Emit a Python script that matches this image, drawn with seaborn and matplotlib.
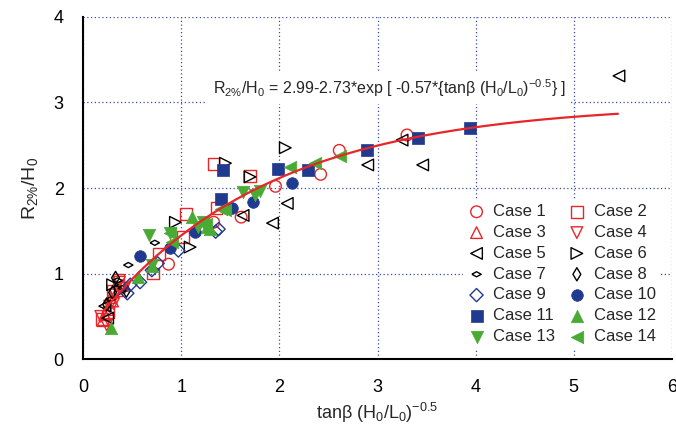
import numpy as np
import pandas as pd
import matplotlib
matplotlib.use("Agg")
import matplotlib.pyplot as plt
import seaborn as sns

# data: tan(beta)*(H0/L0)^-0.5  vs  R2%/H0
case1_x = [0.87, 1.33, 1.61, 1.96, 2.42, 2.61, 3.30]
case1_y = [1.11, 1.60, 1.66, 2.02, 2.16, 2.44, 2.62]
case2_x = [0.19, 0.26, 0.30, 0.36, 0.71, 0.77, 1.02, 1.05, 1.36, 1.33, 1.70]
case2_y = [0.47, 0.55, 0.80, 0.93, 1.00, 1.23, 1.43, 1.70, 1.77, 2.28, 2.14]
case3_x = [0.20, 0.22, 0.25, 0.28, 0.30, 0.35, 0.40]
case3_y = [0.45, 0.52, 0.58, 0.72, 0.68, 0.80, 0.86]
case4_x = [0.18, 0.24, 0.27, 0.31, 0.33, 0.37, 0.42]
case4_y = [0.50, 0.40, 0.62, 0.65, 0.75, 0.90, 0.83]
case5_x = [0.22, 0.25, 1.63, 1.93, 2.08, 2.90, 3.25, 3.46, 5.46]
case5_y = [0.62, 0.48, 1.68, 1.59, 1.82, 2.27, 2.56, 2.27, 3.31]
case6_x = [0.30, 0.38, 0.94, 1.09, 1.45, 1.70, 2.06]
case6_y = [0.87, 0.80, 1.60, 1.31, 2.29, 2.13, 2.47]
case7_x = [0.28, 0.35, 0.40, 0.46, 0.73]
case7_y = [0.70, 0.92, 0.83, 1.10, 1.36]
case8_x = [0.24, 0.30, 0.33, 0.44]
case8_y = [0.64, 0.78, 0.95, 0.80]
case9_x = [0.45, 0.48, 0.58, 0.70, 0.76, 0.97, 1.35, 1.38]
case9_y = [0.77, 0.87, 0.90, 1.04, 1.12, 1.27, 1.49, 1.52]
case10_x = [0.58, 0.89, 1.14, 1.52, 1.73, 2.13]
case10_y = [1.20, 1.30, 1.49, 1.77, 1.84, 2.06]
case11_x = [1.40, 1.43, 1.99, 2.29, 2.89, 3.41, 3.94]
case11_y = [1.87, 2.21, 2.22, 2.21, 2.44, 2.58, 2.70]
case12_x = [0.28, 0.56, 0.70, 1.11, 1.26, 1.29]
case12_y = [0.37, 0.96, 1.09, 1.66, 1.54, 1.52]
case13_x = [0.67, 0.70, 0.89, 1.17, 1.22, 1.63, 1.75, 1.80]
case13_y = [1.45, 1.10, 1.47, 1.55, 1.60, 1.95, 1.92, 1.97]
case14_x = [0.89, 0.91, 1.25, 1.40, 1.45, 2.11, 2.36, 2.62]
case14_y = [1.48, 1.37, 1.58, 1.75, 1.74, 2.25, 2.29, 2.37]

# fit quoted on the chart: y = a - b*exp(-c*x)
fit_a, fit_b, fit_c = 2.99, 2.73, 0.57
fit_xmin, fit_xmax = 0.2, 5.45

RED = "#e8262a"
BLUE = "#203a8f"
GREEN = "#4aab34"
flat_diamond = [(-1, 0), (0, 0.55), (1, 0), (0, -0.55), (-1, 0)]

# (x, y, marker, colour, filled, size)
cases = {
    1: (case1_x, case1_y, "o", RED, False, 70),
    2: (case2_x, case2_y, "s", RED, False, 70),
    3: (case3_x, case3_y, "^", RED, False, 70),
    4: (case4_x, case4_y, "v", RED, False, 70),
    5: (case5_x, case5_y, "<", "black", False, 70),
    6: (case6_x, case6_y, ">", "black", False, 70),
    7: (case7_x, case7_y, flat_diamond, "black", False, 45),
    8: (case8_x, case8_y, "d", "black", False, 45),
    9: (case9_x, case9_y, "D", BLUE, False, 45),
    10: (case10_x, case10_y, "o", BLUE, True, 70),
    11: (case11_x, case11_y, "s", BLUE, True, 80),
    12: (case12_x, case12_y, "^", GREEN, True, 80),
    13: (case13_x, case13_y, "v", GREEN, True, 80),
    14: (case14_x, case14_y, "<", GREEN, True, 80),
}

rows = []
for k, (xs, ys, *_rest) in cases.items():
    for xv, yv in zip(xs, ys):
        rows.append({"case": k, "x": xv, "y": yv})
df = pd.DataFrame(rows)

sns.set_style("white")
plt.rcParams["font.family"] = ["Liberation Sans", "DejaVu Sans"]
plt.rcParams["mathtext.fontset"] = "custom"
plt.rcParams["mathtext.rm"] = "Liberation Sans"
plt.rcParams["mathtext.it"] = "Liberation Sans:italic"

fig = plt.figure(figsize=(6.76, 4.44), dpi=100)
ax = fig.add_axes([0.123, 0.191, 0.871, 0.771])

handles = {}
for k, (xs, ys, mk, col, filled, size) in cases.items():
    sub = df[df["case"] == k]
    if filled:
        sns.scatterplot(data=sub, x="x", y="y", marker=mk, s=size, color=col,
                        edgecolor=col, linewidth=0.5, ax=ax, zorder=3)
    else:
        sns.scatterplot(data=sub, x="x", y="y", marker=mk, s=size,
                        facecolor="none", edgecolor=col, linewidth=1.0,
                        ax=ax, zorder=3)
    handles[k] = ax.scatter([], [], marker=mk, s=size,
                            facecolor=col if filled else "none",
                            edgecolor=col, linewidth=0.5 if filled else 1.0,
                            label=f"Case {k}")

xf = np.linspace(fit_xmin, fit_xmax, 200)
yf = fit_a - fit_b * np.exp(-fit_c * xf)
sns.lineplot(x=xf, y=yf, color=RED, linewidth=1.6, ax=ax, zorder=4)

ax.set_xlim(0, 6)
ax.set_ylim(0, 4)
ax.set_xticks(range(0, 7))
ax.set_yticks(range(0, 5))
ax.grid(True, color="#3a4aa8", linestyle=(0, (1, 2)), linewidth=0.9)
for side in ["top", "right"]:
    ax.spines[side].set_visible(False)
for side in ["left", "bottom"]:
    ax.spines[side].set_color("black")
    ax.spines[side].set_linewidth(1.5)
ax.tick_params(axis="both", direction="out", length=10, width=1.5,
               labelsize=13, colors="black")
ax.tick_params(axis="x", pad=4)
ax.tick_params(axis="y", pad=4)

ax.set_xlabel("tanβ (H$_0$/L$_0$)$^{-0.5}$", fontsize=13, labelpad=4)
ax.set_ylabel("R$_{2\\%}$/H$_0$", fontsize=14, labelpad=10)

ax.text(1.32, 3.17,
        "R$_{2\\%}$/H$_0$ = 2.99-2.73*exp [ -0.57*{tanβ (H$_0$/L$_0$)$^{-0.5}$} ]",
        fontsize=11.5, va="center", ha="left", zorder=5,
        bbox=dict(facecolor="white", edgecolor="none", pad=4))

order = [1, 3, 5, 7, 9, 11, 13, 2, 4, 6, 8, 10, 12, 14]
leg = ax.legend(handles=[handles[k] for k in order], ncol=2, loc="lower right",
                bbox_to_anchor=(0.995, 0.005), fontsize=12, frameon=True,
                handlelength=1.0, handletextpad=0.5, columnspacing=0.8,
                labelspacing=0.35, borderpad=0.3)
leg.get_frame().set_edgecolor("none")
leg.get_frame().set_facecolor("white")
leg.get_frame().set_alpha(1)
leg.set_zorder(6)

fig.savefig("out.png", dpi=100)
